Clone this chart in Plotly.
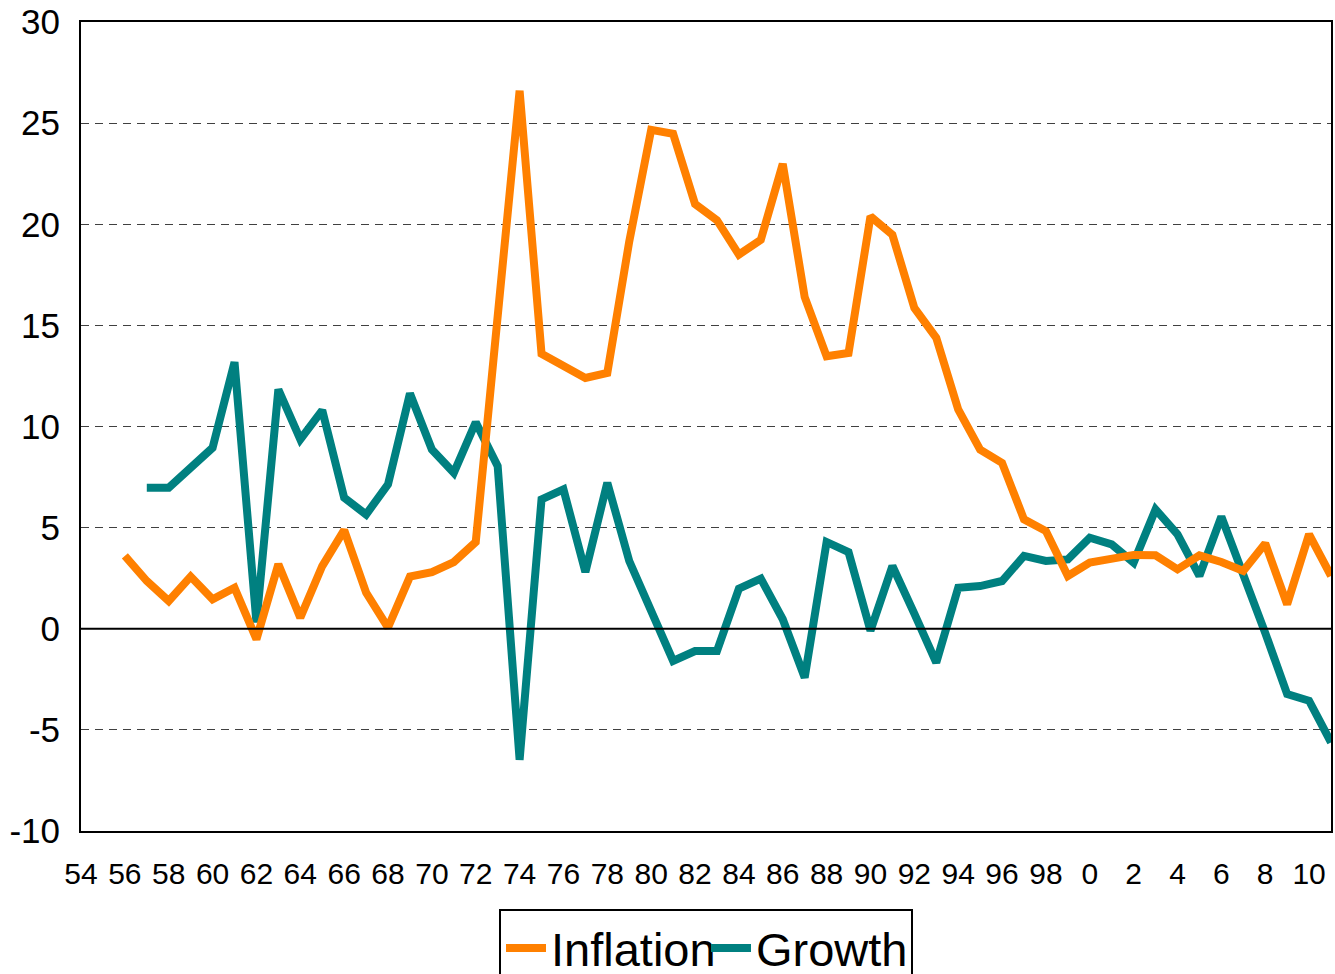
import plotly.graph_objects as go

years = [str(y) for y in range(54, 100)] + [str(y) for y in range(0, 12)]

inflation = [None, None, 3.6, 2.36, 1.37, 2.58, 1.46, 2.03, -0.52, 3.19, 0.55, 3.1, 4.88,
             1.79, 0.06, 2.58, 2.8, 3.3, 4.29, 15.5, 26.6, 13.6, 13.0, 12.4, 12.65, 19.15,
             24.67, 24.47, 21.0, 20.2, 18.5, 19.23, 22.99, 16.4, 13.47, 13.64, 20.39, 19.48,
             15.86, 14.38, 10.84, 8.86, 8.2, 5.41, 4.83, 2.61, 3.27, 3.47, 3.65, 3.63, 2.94,
             3.63, 3.3, 2.86, 4.22, 1.21, 4.67, 2.61]

growth = [None, None, None, 6.97, 6.97, 7.96, 8.95, 13.18, 0.31, 11.83, 9.36, 10.8, 6.48,
          5.65, 7.14, 11.63, 8.86, 7.71, 10.21, 8.04, -6.48, 6.4, 6.89, 2.81, 7.22, 3.35,
          0.88, -1.59, -1.1, -1.1, 1.98, 2.48, 0.47, -2.41, 4.29, 3.79, -0.1, 3.1, 0.75,
          -1.67, 2.03, 2.11, 2.36, 3.6, 3.35, 3.43, 4.5, 4.17, 3.27, 5.9, 4.67, 2.61, 5.54,
          2.8, -0.2, -3.23, -3.56, -5.62]

y_ticks = [-10, -5, 0, 5, 10, 15, 20, 25, 30]
y_tick_text = ["-10", "-5", "0", "5", "10", "15", "20", "25", "30"]

FONT = "Liberation Sans, Arial, sans-serif"

fig = go.Figure()
fig.add_trace(go.Scatter(x=years, y=growth, name="Growth", mode="lines",
                         line=dict(color="#008080", width=8), legendrank=2))
fig.add_trace(go.Scatter(x=years, y=inflation, name="Inflation", mode="lines",
                         line=dict(color="#FF8000", width=8), legendrank=1))

fig.add_shape(type="line", xref="paper", yref="y", x0=0, x1=1, y0=0, y1=0,
              line=dict(color="black", width=2), layer="above")

fig.update_layout(
    width=1335, height=990,
    margin=dict(l=81, r=2, t=22, b=158),
    paper_bgcolor="white", plot_bgcolor="white",
    font=dict(family=FONT, color="black"),
    showlegend=True,
    legend=dict(orientation="h", x=0.5, xanchor="center", y=-0.0963, yanchor="top",
                font=dict(size=47, family=FONT, color="black"),
                bordercolor="black", borderwidth=2, bgcolor="white",
                itemwidth=40, entrywidth=150, tracegroupgap=0),
)

fig.update_xaxes(type="category", range=[0, len(years) - 1], dtick=2,
                 tickfont=dict(size=30, family=FONT, color="black"),
                 showgrid=False, showline=True, linecolor="black", linewidth=2,
                 mirror=True, ticks="", ticklabelstandoff=15)
fig.update_yaxes(range=[-10, 30], tickvals=y_ticks, ticktext=y_tick_text,
                 tickfont=dict(size=35, family=FONT, color="black"),
                 showgrid=True, gridcolor="#404040", gridwidth=1, griddash="8px,6px",
                 zeroline=False, showline=True, linecolor="black", linewidth=2,
                 mirror=True, ticks="", ticklabelstandoff=12, ticklabeloverflow="allow")

fig.write_html("out.html",
               config={"displayModeBar": False},
               post_script="document.body.style.margin='0';"
                           "document.body.style.overflow='hidden';")
